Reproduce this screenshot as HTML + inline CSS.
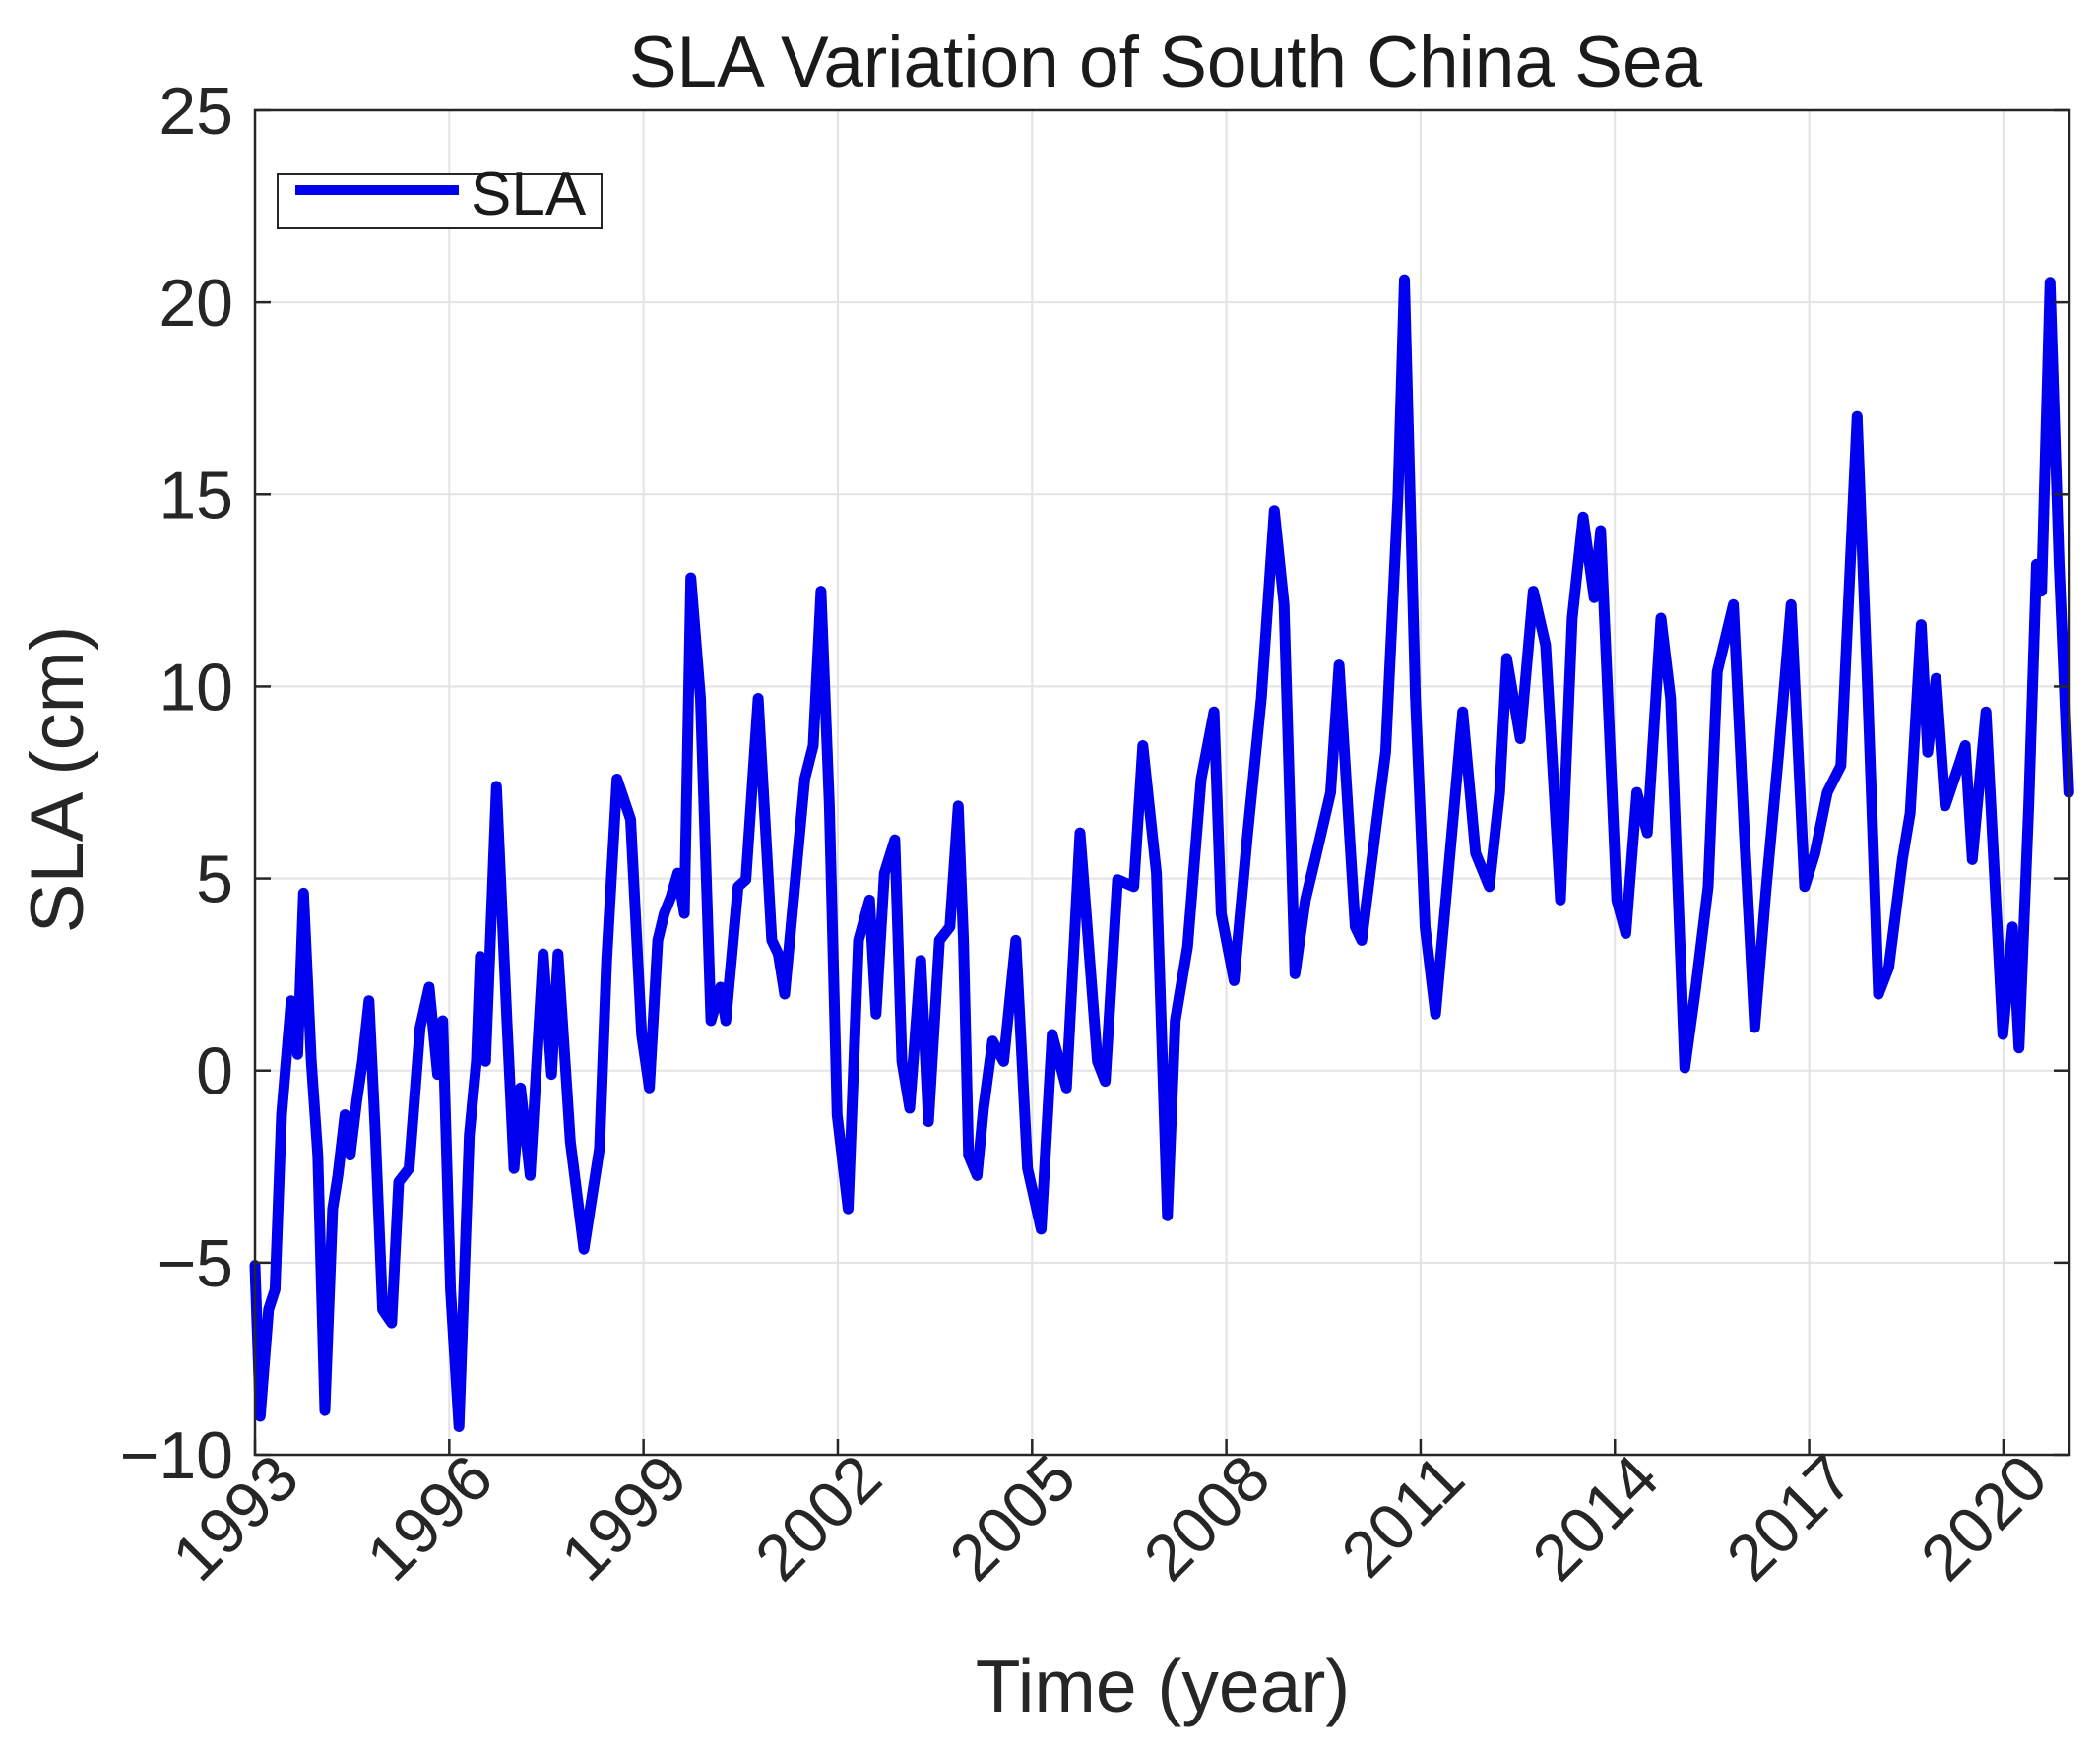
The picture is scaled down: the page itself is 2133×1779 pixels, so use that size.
<!DOCTYPE html>
<html><head><meta charset="utf-8"><style>
html,body{margin:0;padding:0;background:#fff}
svg{display:block;font-family:"Liberation Sans",Arial,sans-serif}
</style></head><body>
<svg id="chart" width="2133" height="1779" viewBox="0 0 2133 1779" xmlns="http://www.w3.org/2000/svg">
<rect width="2133" height="1779" fill="#fff"/>
<g id="grid"></g>
<g id="series"></g>
<rect x="259" y="112" width="1843" height="1366" fill="none" stroke="#262626" stroke-width="2.5"/>
<g id="ticks"></g>
<text x="1184" y="88" font-size="73" text-anchor="middle" fill="#1a1a1a">SLA Variation of South China Sea</text>
<text x="1181" y="1739" font-size="75" text-anchor="middle" fill="#262626">Time (year)</text>
<text transform="translate(84,792) rotate(-90)" font-size="76" text-anchor="middle" fill="#262626">SLA (cm)</text>
<g>
<rect x="282" y="177" width="329" height="55" fill="#fff" stroke="#262626" stroke-width="2"/>
<line x1="300" y1="193" x2="466" y2="193" stroke="#0000ee" stroke-width="10"/>
<text x="478" y="218" font-size="62" fill="#1a1a1a">SLA</text>
</g>
</svg>
<script>
const years = [1993.00,1993.08,1993.21,1993.31,1993.41,1993.56,1993.66,1993.75,1993.87,1993.97,1994.08,1994.20,1994.28,1994.39,1994.47,1994.57,1994.66,1994.76,1994.86,1994.97,1995.11,1995.22,1995.38,1995.55,1995.69,1995.82,1995.90,1996.02,1996.15,1996.31,1996.42,1996.48,1996.56,1996.73,1996.89,1997.00,1997.10,1997.25,1997.45,1997.58,1997.68,1997.87,1998.08,1998.32,1998.43,1998.59,1998.80,1998.97,1999.09,1999.22,1999.32,1999.42,1999.53,1999.63,1999.73,1999.88,2000.04,2000.19,2000.27,2000.46,2000.58,2000.77,2000.98,2001.08,2001.18,2001.49,2001.62,2001.74,2001.87,2001.99,2002.16,2002.32,2002.49,2002.59,2002.72,2002.88,2002.99,2003.11,2003.28,2003.40,2003.57,2003.73,2003.86,2003.94,2004.02,2004.15,2004.25,2004.39,2004.56,2004.75,2004.93,2005.14,2005.31,2005.53,2005.74,2006.01,2006.13,2006.32,2006.57,2006.71,2006.92,2007.09,2007.21,2007.40,2007.61,2007.81,2007.92,2008.12,2008.33,2008.54,2008.74,2008.89,2009.06,2009.22,2009.37,2009.61,2009.74,2009.99,2010.09,2010.30,2010.46,2010.65,2010.75,2010.92,2011.07,2011.23,2011.40,2011.65,2011.85,2012.06,2012.22,2012.33,2012.54,2012.74,2012.93,2013.16,2013.34,2013.51,2013.68,2013.78,2014.03,2014.17,2014.34,2014.50,2014.71,2014.86,2015.08,2015.25,2015.44,2015.58,2015.83,2016.00,2016.16,2016.33,2016.53,2016.72,2016.93,2017.09,2017.28,2017.49,2017.74,2017.90,2018.07,2018.23,2018.44,2018.56,2018.73,2018.83,2018.96,2019.10,2019.31,2019.41,2019.52,2019.73,2019.99,2020.14,2020.24,2020.39,2020.51,2020.59,2020.72,2020.86,2021.01];
const sla = [-5.07,-9.0,-6.22,-5.7,-1.15,1.82,0.42,4.62,0.24,-2.2,-8.85,-3.6,-2.73,-1.15,-2.2,-0.8,0.24,1.82,-1.68,-6.22,-6.57,-2.9,-2.55,1.12,2.17,-0.1,1.3,-5.7,-9.27,-1.68,0.24,2.97,0.24,7.4,1.3,-2.55,-0.45,-2.73,3.04,-0.1,3.04,-1.85,-4.65,-2.03,2.87,7.59,6.54,0.94,-0.45,3.39,4.09,4.51,5.14,4.09,12.83,9.69,1.3,2.17,1.3,4.79,4.97,9.69,3.39,3.04,1.99,7.59,8.46,12.48,6.89,-1.15,-3.6,3.39,4.44,1.47,5.14,6.01,0.24,-0.98,2.87,-1.33,3.39,3.74,6.89,3.39,-2.2,-2.73,-0.98,0.77,0.24,3.39,-2.55,-4.13,0.94,-0.45,6.19,0.24,-0.28,4.97,4.79,8.46,5.14,-3.78,1.3,3.22,7.59,9.34,4.09,2.34,6.19,9.69,14.58,12.13,2.52,4.44,5.49,7.24,10.56,3.74,3.39,6.19,8.29,14.93,20.59,9.69,3.74,1.47,4.62,9.34,5.66,4.79,7.24,10.73,8.64,12.48,11.08,4.44,11.78,14.41,12.31,14.06,4.44,3.57,7.24,6.19,11.78,9.69,0.07,2.17,4.79,10.38,12.13,6.19,1.12,4.62,8.29,12.13,4.79,5.66,7.24,7.94,17.03,10.03,1.99,2.69,5.49,6.71,11.61,8.29,10.21,6.89,7.94,8.46,5.49,9.34,0.94,3.74,0.59,6.89,13.18,12.48,20.52,13.18,7.24];
const yTicks = [-10,-5,0,5,10,15,20,25];
const xTicks = [1993,1996,1999,2002,2005,2008,2011,2014,2017,2020];

const NS = 'http://www.w3.org/2000/svg';
const L = 259, R = 2102, T = 112, B = 1478;
const xMin = 1993, xMax = 2021.02, yMin = -10, yMax = 25;
const xs = v => L + (v - xMin) / (xMax - xMin) * (R - L);
const ys = v => B - (v - yMin) / (yMax - yMin) * (B - T);
function mk(tag, attrs, parent) { const e = document.createElementNS(NS, tag); for (const k in attrs) e.setAttribute(k, attrs[k]); parent.appendChild(e); return e; }
const grid = document.getElementById('grid'), ticks = document.getElementById('ticks'), series = document.getElementById('series');
yTicks.forEach(v => {
  const y = ys(v);
  const g = mk('line', {x1: L, x2: R, y1: y, y2: y, stroke: '#e3e3e3', 'stroke-width': 2}, grid);
  
  
  const t1 = mk('line', {x1: L, x2: L + 16, y1: y, y2: y, stroke: '#262626', 'stroke-width': 2.5}, ticks);
  
  
  const t2 = mk('line', {x1: R - 16, x2: R, y1: y, y2: y, stroke: '#262626', 'stroke-width': 2.5}, ticks);
  
  
  const lb = mk('text', {x: L - 22, y: y + 24, 'font-size': 68, 'text-anchor': 'end', fill: '#262626'}, ticks);
  lb.textContent = v < 0 ? '\u2212' + Math.abs(v) : String(v);
  
  
});
xTicks.forEach(v => {
  const x = xs(v);
  const g = mk('line', {x1: x, x2: x, y1: T, y2: B, stroke: '#e3e3e3', 'stroke-width': 2}, grid);
  
  
  const t1 = mk('line', {x1: x, x2: x, y1: B - 16, y2: B, stroke: '#262626', 'stroke-width': 2.5}, ticks);
  
  
  const lb = mk('text', {transform: `translate(${x + 48},${B + 28}) rotate(-45)`, 'font-size': 66, 'text-anchor': 'end', fill: '#262626'}, ticks);
  lb.textContent = String(v);
  
  
});
const pts = years.map((yr, i) => xs(yr).toFixed(1) + ',' + ys(sla[i]).toFixed(1)).join(' ');
const line = mk('polyline', {points: pts, fill: 'none', stroke: '#0000ee', 'stroke-width': 11, 'stroke-linejoin': 'round', 'stroke-linecap': 'round'}, series);


</script>
</body></html>
